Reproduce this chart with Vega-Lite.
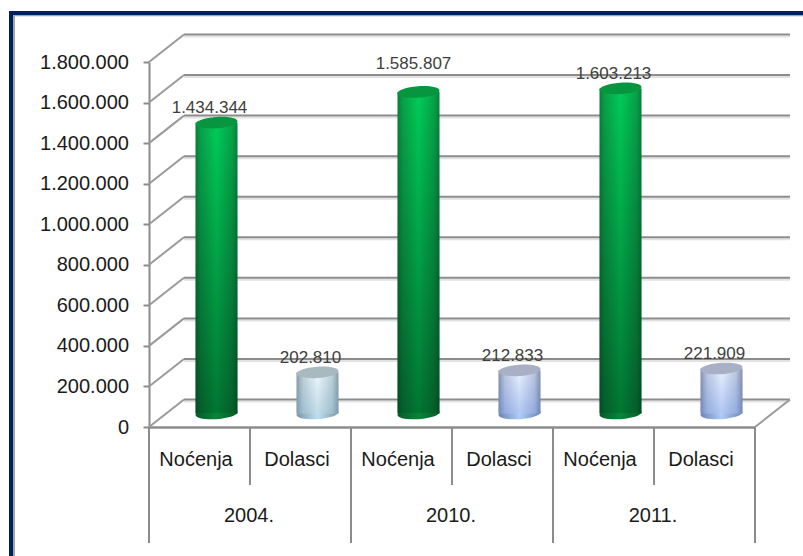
{
"$schema":"https://vega.github.io/schema/vega-lite/v6.json",
"width":606,"height":365,
"autosize":"none",
"padding":{"left":149,"top":62,"right":48,"bottom":129},
"background":"white",
"config":{"view":{"stroke":null},"font":"Liberation Sans"},
"datasets":{
"bars":[
{"group":"2004.","category":"Noćenja","key":"2004. Noćenja","value":1434344,"label":"1.434.344"},
{"group":"2004.","category":"Dolasci","key":"2004. Dolasci","value":202810,"label":"202.810"},
{"group":"2010.","category":"Noćenja","key":"2010. Noćenja","value":1585807,"label":"1.585.807"},
{"group":"2010.","category":"Dolasci","key":"2010. Dolasci","value":212833,"label":"212.833"},
{"group":"2011.","category":"Noćenja","key":"2011. Noćenja","value":1603213,"label":"1.603.213"},
{"group":"2011.","category":"Dolasci","key":"2011. Dolasci","value":221909,"label":"221.909"}],
"grid":[{"v":0},{"v":200000},{"v":400000},{"v":600000},{"v":800000},{"v":1000000},{"v":1200000},{"v":1400000},{"v":1600000},{"v":1800000}],
"one":[{"a":1}]
},
"data":{"name":"bars"},
"encoding":{
"x":{"field":"key","type":"nominal","sort":null,"title":null,
 "scale":{"domain":["2004. Noćenja","2004. Dolasci","2010. Noćenja","2010. Dolasci","2011. Noćenja","2011. Dolasci"],"paddingInner":0,"paddingOuter":0},
 "axis":{"labelExpr":"split(datum.value,' ')[1]","labelAngle":0,"labelFontSize":20,"labelColor":"#1a1a1a","labelPadding":32,"labelOffset":-3.5,"labelBaseline":"middle","ticks":false,"domainColor":"#8c8c8c","domainWidth":2.5,"zindex":0}},
"y":{"field":"value","type":"quantitative","title":null,
 "scale":{"domain":[0,1800000],"nice":false},
 "axis":{"values":[0,200000,400000,600000,800000,1000000,1200000,1400000,1600000,1800000],"labelExpr":"replace(format(datum.value,','),/,/g,'.')","labelFontSize":20,"labelColor":"#1a1a1a","labelPadding":14.5,"tickSize":6,"tickColor":"#8c8c8c","tickWidth":2,"domainColor":"#8c8c8c","domainWidth":2,"grid":false}}
},
"layer":[
{"data":{"name":"one"},"mark":{"type":"rule","stroke":"#a6a6a6","strokeWidth":2},"encoding":{"x":{"value":-135},"y":{"value":-47},"y2":{"value":494}}},
{"data":{"name":"one"},"mark":{"type":"rule","stroke":"#a6a6a6","strokeWidth":1.5},"encoding":{"x":{"value":-135},"x2":{"value":654},"y":{"value":-46.5},"y2":{"value":-46.5}}},
{"data":{"name":"one"},"mark":{"type":"rule","stroke":"#002060","strokeWidth":4},"encoding":{"x":{"value":-138},"y":{"value":-51},"y2":{"value":494}}},
{"data":{"name":"one"},"mark":{"type":"rule","stroke":"#002060","strokeWidth":4},"encoding":{"x":{"value":-140},"x2":{"value":654},"y":{"value":-49},"y2":{"value":-49}}},

{"data":{"name":"grid"},"mark":{"type":"rule","stroke":"#e2e2e2","strokeWidth":2,"xOffset":35,"x2Offset":35,"yOffset":-25.5,"y2Offset":-25.5},"encoding":{"x":{"value":0},"x2":{"value":606},"y":{"field":"v","type":"quantitative"},"y2":{"field":"v"}}},
{"data":{"name":"grid"},"mark":{"type":"rule","stroke":"#8c8c8c","strokeWidth":2,"xOffset":35,"x2Offset":35,"yOffset":-27.5,"y2Offset":-27.5},"encoding":{"x":{"value":0},"x2":{"value":606},"y":{"field":"v","type":"quantitative"},"y2":{"field":"v"}}},
{"data":{"name":"grid"},"mark":{"type":"rule","stroke":"#9a9a9a","strokeWidth":2,"x2Offset":35,"y2Offset":-27.5},"encoding":{"x":{"value":0},"x2":{"value":0},"y":{"field":"v","type":"quantitative"},"y2":{"field":"v"}}},
{"data":{"name":"grid"},"transform":[{"filter":"datum.v===0"}],"mark":{"type":"rule","stroke":"#9a9a9a","strokeWidth":2,"x2Offset":35,"y2Offset":-27.5},"encoding":{"x":{"value":606},"x2":{"value":606},"y":{"field":"v","type":"quantitative"},"y2":{"field":"v"}}},

{"transform":[{"filter":"datum.category==='Dolasci'"}],"mark":{"type":"rule","stroke":"#8c8c8c","strokeWidth":2,"y2Offset":58},"encoding":{"x":{"field":"key","type":"nominal","bandPosition":0,"sort":null},"y":{"datum":0},"y2":{"datum":0}}},
{"transform":[{"filter":"datum.category==='Noćenja'"}],"mark":{"type":"rule","stroke":"#8c8c8c","strokeWidth":2,"y2Offset":116},"encoding":{"x":{"field":"key","type":"nominal","bandPosition":0,"sort":null},"y":{"datum":0},"y2":{"datum":0}}},
{"transform":[{"filter":"datum.key==='2011. Dolasci'"}],"mark":{"type":"rule","stroke":"#8c8c8c","strokeWidth":2,"y2Offset":116},"encoding":{"x":{"field":"key","type":"nominal","bandPosition":1,"sort":null},"y":{"datum":0},"y2":{"datum":0}}},
{"transform":[{"filter":"datum.category==='Noćenja'"}],"mark":{"type":"text","fontSize":20,"color":"#1a1a1a","yOffset":89,"xOffset":-1},"encoding":{"x":{"field":"key","type":"nominal","bandPosition":1,"sort":null},"y":{"datum":0},"text":{"field":"group"}}},

{"transform":[{"filter":"datum.category==='Noćenja'"}],"mark":{"type":"point","shape":"M-1,0.07 A1,0.27 -4 1 1 1,-0.07 A1,0.27 -4 1 1 -1,0.07 Z","size":1764,"filled":true,"opacity":1,"strokeWidth":0,"xOffset":17,"yOffset":-13.5,"color":{"x1":0,"y1":0,"x2":1,"y2":0,"gradient":"linear","stops":[{"offset":0,"color":"#045c26"},{"offset":0.5,"color":"#08853a"},{"offset":1,"color":"#045c26"}]}},"encoding":{"y":{"datum":0}}},
{"transform":[{"filter":"datum.key==='2004. Dolasci'"}],"mark":{"type":"point","shape":"M-1,0.07 A1,0.27 -4 1 1 1,-0.07 A1,0.27 -4 1 1 -1,0.07 Z","size":1764,"filled":true,"opacity":1,"strokeWidth":0,"xOffset":17,"yOffset":-13.5,"color":{"x1":0,"y1":0,"x2":1,"y2":0,"gradient":"linear","stops":[{"offset":0,"color":"#7e98a4"},{"offset":0.5,"color":"#bce0f2"},{"offset":1,"color":"#7e98a4"}]}},"encoding":{"y":{"datum":0}}},
{"transform":[{"filter":"datum.category==='Dolasci' && datum.group!=='2004.'"}],"mark":{"type":"point","shape":"M-1,0.07 A1,0.27 -4 1 1 1,-0.07 A1,0.27 -4 1 1 -1,0.07 Z","size":1764,"filled":true,"opacity":1,"strokeWidth":0,"xOffset":17,"yOffset":-13.5,"color":{"x1":0,"y1":0,"x2":1,"y2":0,"gradient":"linear","stops":[{"offset":0,"color":"#6f86ad"},{"offset":0.5,"color":"#acccfa"},{"offset":1,"color":"#6f86ad"}]}},"encoding":{"y":{"datum":0}}},

{"transform":[{"filter":"datum.category==='Noćenja'"}],"mark":{"type":"bar","width":42,"xOffset":17,"yOffset":-13.5,"y2Offset":-13.5,"color":{"x1":0,"y1":0,"x2":1,"y2":0,"gradient":"linear","stops":[{"offset":0,"color":"#07803a"},{"offset":0.12,"color":"#08a049"},{"offset":0.5,"color":"#00cc58"},{"offset":0.88,"color":"#08a049"},{"offset":1,"color":"#07803a"}]}}},
{"transform":[{"filter":"datum.key==='2004. Dolasci'"}],"mark":{"type":"bar","width":42,"xOffset":17,"yOffset":-13.5,"y2Offset":-13.5,"color":{"x1":0,"y1":0,"x2":1,"y2":0,"gradient":"linear","stops":[{"offset":0,"color":"#8a9ca6"},{"offset":0.15,"color":"#bccfd8"},{"offset":0.5,"color":"#eef8fd"},{"offset":0.85,"color":"#bccfd8"},{"offset":1,"color":"#8a9ca6"}]}}},
{"transform":[{"filter":"datum.category==='Dolasci' && datum.group!=='2004.'"}],"mark":{"type":"bar","width":42,"xOffset":17,"yOffset":-13.5,"y2Offset":-13.5,"color":{"x1":0,"y1":0,"x2":1,"y2":0,"gradient":"linear","stops":[{"offset":0,"color":"#8690a8"},{"offset":0.15,"color":"#bcc7e0"},{"offset":0.5,"color":"#eaf1ff"},{"offset":0.85,"color":"#bcc7e0"},{"offset":1,"color":"#8690a8"}]}}},
{"transform":[{"filter":"datum.category==='Noćenja'"}],"mark":{"type":"bar","width":42,"xOffset":17,"yOffset":-13.5,"y2Offset":-13.5,"color":{"x1":0,"y1":0,"x2":0,"y2":1,"gradient":"linear","stops":[{"offset":0,"color":"rgba(0,0,0,0)"},{"offset":1,"color":"rgba(0,0,0,0.42)"}]}}},
{"transform":[{"filter":"datum.key==='2004. Dolasci'"}],"mark":{"type":"bar","width":42,"xOffset":17,"yOffset":-13.5,"y2Offset":-13.5,"color":{"x1":0,"y1":0,"x2":0,"y2":1,"gradient":"linear","stops":[{"offset":0,"color":"rgba(90,150,180,0)"},{"offset":1,"color":"rgba(90,150,180,0.3)"}]}}},
{"transform":[{"filter":"datum.category==='Dolasci' && datum.group!=='2004.'"}],"mark":{"type":"bar","width":42,"xOffset":17,"yOffset":-13.5,"y2Offset":-13.5,"color":{"x1":0,"y1":0,"x2":0,"y2":1,"gradient":"linear","stops":[{"offset":0,"color":"rgba(70,120,220,0)"},{"offset":1,"color":"rgba(70,120,220,0.35)"}]}}},

{"transform":[{"filter":"datum.category==='Noćenja'"}],"mark":{"type":"point","shape":"M-1,0.07 A1,0.27 -4 1 1 1,-0.07 A1,0.27 -4 1 1 -1,0.07 Z","size":1764,"filled":true,"opacity":1,"strokeWidth":0,"xOffset":17,"yOffset":-13.5,"color":"#07963f"}},
{"transform":[{"filter":"datum.key==='2004. Dolasci'"}],"mark":{"type":"point","shape":"M-1,0.07 A1,0.27 -4 1 1 1,-0.07 A1,0.27 -4 1 1 -1,0.07 Z","size":1764,"filled":true,"opacity":1,"strokeWidth":0,"xOffset":17,"yOffset":-13.5,"color":"#a9b9c0"}},
{"transform":[{"filter":"datum.category==='Dolasci' && datum.group!=='2004.'"}],"mark":{"type":"point","shape":"M-1,0.07 A1,0.27 -4 1 1 1,-0.07 A1,0.27 -4 1 1 -1,0.07 Z","size":1764,"filled":true,"opacity":1,"strokeWidth":0,"xOffset":17,"yOffset":-13.5,"color":"#a9b0c6"}},

{"transform":[{"filter":"datum.key!=='2010. Noćenja'"}],"mark":{"type":"text","fontSize":17,"color":"#404040","xOffset":10,"yOffset":-28},"encoding":{"text":{"field":"label"}}},
{"transform":[{"filter":"datum.key==='2010. Noćenja'"}],"mark":{"type":"text","fontSize":17,"color":"#404040","xOffset":12,"yOffset":-41},"encoding":{"text":{"field":"label"}}}
]
}
